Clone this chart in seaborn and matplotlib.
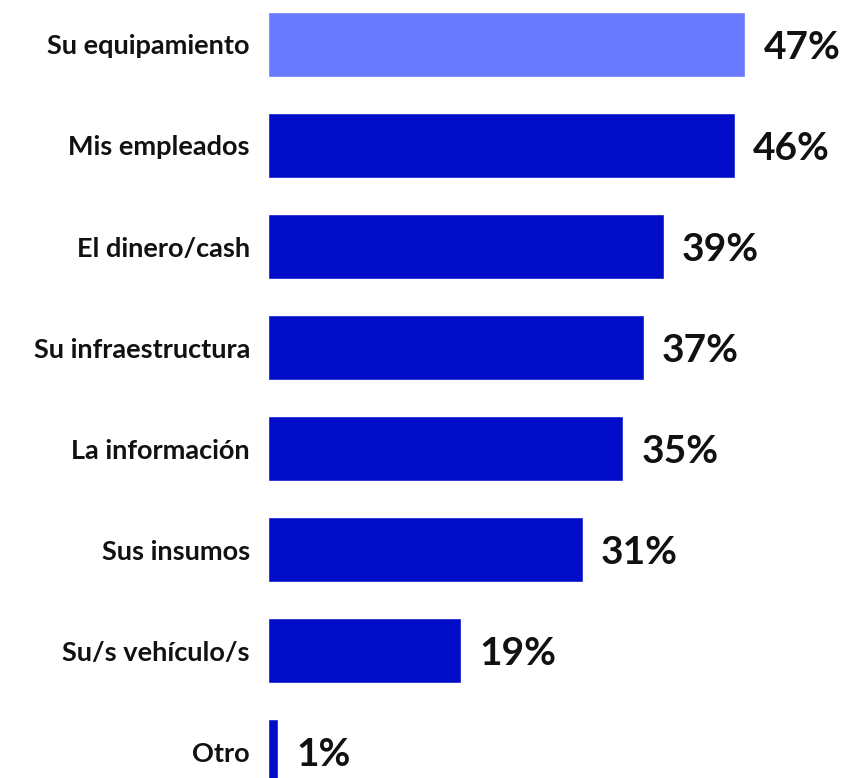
import pandas as pd
import seaborn as sns
import matplotlib.pyplot as plt

# Data
categories = ['Su equipamiento', 'Mis empleados', 'El dinero/cash', 'Su infraestructura',
              'La información', 'Sus insumos', 'Su/s vehículo/s', 'Otro']
values = [47, 46, 39, 37, 35, 31, 19, 1]
labels = ['47%', '46%', '39%', '37%', '35%', '31%', '19%', '1%']

df = pd.DataFrame({'categoria': categories, 'valor': values})

sns.set_theme(style='white')
plt.rcParams['font.family'] = ['Lato', 'DejaVu Sans']

palette = ['#6878FF'] + ['#000CC8'] * (len(categories) - 1)

fig = plt.figure(figsize=(8.55, 7.78), dpi=100)
ax = fig.add_axes([268 / 855, 0, 587 / 855, 1])

sns.barplot(data=df, x='valor', y='categoria', hue='categoria', palette=palette,
            legend=False, width=0.64, saturation=1, ax=ax)

for i, (v, lab) in enumerate(zip(values, labels)):
    ax.annotate(lab, (v, i), xytext=(13, -2), textcoords='offset points',
                ha='left', va='center', fontsize=28, fontweight='bold', color='#111111')

ax.set_xlim(0, 57.8)
ax.set_ylim(7.26, -0.44)
ax.set_xlabel('')
ax.set_ylabel('')
ax.set_xticks([])
ax.tick_params(axis='y', length=0, pad=13)
for t in ax.get_yticklabels():
    t.set_fontsize(19.5)
    t.set_fontweight('bold')
    t.set_color('#111111')
sns.despine(ax=ax, left=True, bottom=True)

fig.savefig('out.png', dpi=100)
